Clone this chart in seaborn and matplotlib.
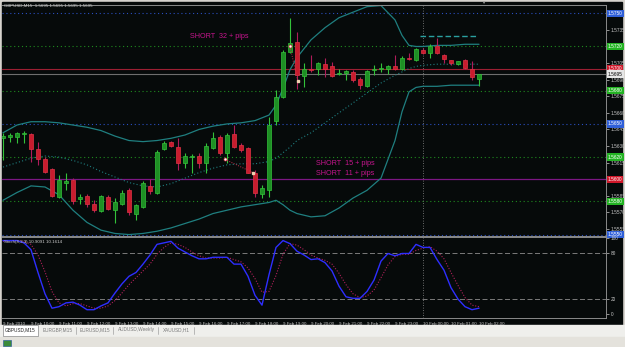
import numpy as np
import pandas as pd
import matplotlib
matplotlib.use("Agg")
import matplotlib.pyplot as plt
import matplotlib.transforms as mtransforms
from matplotlib.patches import Rectangle
import seaborn as sns

# ---------------- data ----------------
time_labels = ["9 Feb 2010", "9 Feb 10:00", "9 Feb 11:00", "9 Feb 12:00", "9 Feb 13:00",
               "9 Feb 14:00", "9 Feb 15:00", "9 Feb 16:00", "9 Feb 17:00", "9 Feb 18:00",
               "9 Feb 19:00", "9 Feb 20:00", "9 Feb 21:00", "9 Feb 22:00", "9 Feb 23:00",
               "10 Feb 00:00", "10 Feb 01:00", "10 Feb 02:00"]

opens = [1.5637, 1.5638, 1.5638, 1.5641, 1.5641, 1.5627, 1.5618, 1.5609, 1.5584, 1.5597,
         1.5599, 1.5582, 1.5585, 1.5578, 1.5571, 1.5584, 1.5572, 1.5578, 1.5590, 1.5569,
         1.5575, 1.5594, 1.5588, 1.5627, 1.5634, 1.5629, 1.5615, 1.5620, 1.5621, 1.5615,
         1.5628, 1.5638, 1.5624, 1.5641, 1.5631, 1.5628, 1.5606, 1.5587, 1.5590, 1.5653,
         1.5674, 1.5715, 1.5724, 1.5693, 1.5700, 1.5700, 1.5704, 1.5702, 1.5695, 1.5696,
         1.5697, 1.5691, 1.5684, 1.5699, 1.5700, 1.5700, 1.5702, 1.5700, 1.5710, 1.5708,
         1.5717, 1.5714, 1.5720, 1.5712, 1.5708, 1.5704, 1.5708, 1.5700, 1.5691]
highs = [1.5642, 1.5642, 1.5643, 1.5644, 1.5642, 1.5634, 1.5620, 1.5610, 1.5604, 1.5606,
         1.5601, 1.5587, 1.5587, 1.5581, 1.5586, 1.5586, 1.5583, 1.5590, 1.5592, 1.5578,
         1.5598, 1.5600, 1.5626, 1.5635, 1.5635, 1.5637, 1.5624, 1.5623, 1.5624, 1.5633,
         1.5643, 1.5640, 1.5642, 1.5649, 1.5633, 1.5629, 1.5608, 1.5595, 1.5656, 1.5681,
         1.5717, 1.5746, 1.5733, 1.5705, 1.5712, 1.5706, 1.5710, 1.5706, 1.5700, 1.5699,
         1.5699, 1.5692, 1.5699, 1.5703, 1.5705, 1.5703, 1.5712, 1.5711, 1.5714, 1.5719,
         1.5719, 1.5722, 1.5728, 1.5713, 1.5708, 1.5707, 1.5709, 1.5707, 1.5695]
lows = [1.5617, 1.5634, 1.5633, 1.5633, 1.5616, 1.5613, 1.5606, 1.5584, 1.5583, 1.5590,
        1.5578, 1.5578, 1.5575, 1.5570, 1.5570, 1.5572, 1.5560, 1.5577, 1.5568, 1.5563,
        1.5574, 1.5587, 1.5587, 1.5626, 1.5629, 1.5608, 1.5610, 1.5606, 1.5610, 1.5606,
        1.5627, 1.5622, 1.5615, 1.5628, 1.5625, 1.5606, 1.5584, 1.5583, 1.5584, 1.5649,
        1.5673, 1.5714, 1.5682, 1.5683, 1.5697, 1.5694, 1.5692, 1.5692, 1.5694, 1.5690,
        1.5688, 1.5682, 1.5683, 1.5694, 1.5697, 1.5695, 1.5699, 1.5699, 1.5708, 1.5707,
        1.5713, 1.5710, 1.5713, 1.5705, 1.5703, 1.5703, 1.5700, 1.5690, 1.5684]
closes = [1.5639, 1.5640, 1.5642, 1.5642, 1.5627, 1.5618, 1.5607, 1.5585, 1.5599, 1.5598,
          1.5580, 1.5584, 1.5578, 1.5572, 1.5585, 1.5573, 1.5579, 1.5588, 1.5570, 1.5577,
          1.5597, 1.5589, 1.5625, 1.5633, 1.5630, 1.5615, 1.5621, 1.5621, 1.5615, 1.5630,
          1.5637, 1.5624, 1.5640, 1.5629, 1.5626, 1.5606, 1.5588, 1.5592, 1.5649, 1.5674,
          1.5715, 1.5723, 1.5694, 1.5700, 1.5699, 1.5705, 1.5700, 1.5693, 1.5696, 1.5698,
          1.5690, 1.5685, 1.5698, 1.5700, 1.5701, 1.5702, 1.5700, 1.5710, 1.5709, 1.5718,
          1.5714, 1.5720, 1.5714, 1.5709, 1.5705, 1.5707, 1.5701, 1.5692, 1.5695]

# Bollinger bands read at selected bars
band_bars = [0, 2, 4, 6, 8, 10, 12, 14, 16, 18, 20, 22, 24, 26, 28, 30, 32, 34, 36, 38,
             39, 40, 41, 42, 44, 46, 48, 50, 52, 54, 56, 57, 58, 59, 60, 62, 64, 66, 68]
band_upper = [1.5642, 1.5649, 1.5652, 1.5652, 1.5651, 1.5649, 1.5647, 1.5644, 1.5639, 1.5635,
              1.5634, 1.5635, 1.5637, 1.5640, 1.5645, 1.5648, 1.5650, 1.5651, 1.5653, 1.5658,
              1.5667, 1.5682, 1.5699, 1.5710, 1.5726, 1.5737, 1.5746, 1.5751, 1.5756, 1.5757,
              1.5744, 1.5730, 1.5721, 1.5720, 1.5720, 1.5721, 1.5721, 1.5722, 1.5722]
band_mid = [1.5611, 1.5615, 1.5619, 1.5621, 1.5620, 1.5617, 1.5613, 1.5607, 1.5602, 1.5597,
            1.5594, 1.5593, 1.5596, 1.5601, 1.5606, 1.5610, 1.5613, 1.5614, 1.5614, 1.5616,
            1.5619, 1.5624, 1.5629, 1.5635, 1.5642, 1.5651, 1.5660, 1.5669, 1.5678, 1.5687,
            1.5694, 1.5697, 1.5700, 1.5702, 1.5703, 1.5704, 1.5704, 1.5704, 1.5704]
band_lower = [1.5581, 1.5588, 1.5594, 1.5593, 1.5586, 1.5572, 1.5561, 1.5554, 1.5551, 1.5550,
              1.5551, 1.5553, 1.5556, 1.5560, 1.5564, 1.5569, 1.5572, 1.5575, 1.5577, 1.5579,
              1.5581, 1.5577, 1.5572, 1.5569, 1.5566, 1.5567, 1.5574, 1.5583, 1.5590, 1.5601,
              1.5635, 1.5661, 1.5679, 1.5683, 1.5684, 1.5684, 1.5685, 1.5685, 1.5685]

stoch_main = [97, 97, 97, 94, 85, 55, 27, 8, 10, 15, 16, 12, 6, 6, 11, 15, 28, 40, 50, 55,
              66, 78, 92, 94, 96, 87, 82, 77, 73, 73, 75, 75, 75, 66, 66, 50, 25, 12, 52, 88,
              97, 93, 83, 78, 72, 73, 68, 57, 37, 23, 21, 21, 30, 45, 70, 80, 77, 80, 80, 92,
              88, 88, 72, 58, 35, 20, 10, 6, 8]
stoch_signal = [96, 97, 97, 96, 92, 78, 56, 30, 15, 11, 14, 14, 11, 8, 8, 11, 18, 28, 39, 48,
                57, 66, 79, 88, 94, 92, 88, 82, 77, 74, 74, 74, 75, 72, 69, 61, 47, 29, 30, 51,
                79, 93, 91, 85, 78, 74, 71, 66, 54, 39, 27, 22, 24, 32, 48, 65, 76, 79, 79, 84,
                87, 89, 83, 73, 55, 38, 22, 12, 10]

level_lines = [1.5750, 1.5720, 1.5700, 1.5695, 1.5680, 1.5650, 1.5620, 1.5600, 1.5580, 1.5550]
level_kinds = ["blue", "green", "red", "bid", "green", "blue", "green", "purple", "green", "blue"]
price_ticks = [1.5555, 1.5570, 1.5585, 1.5615, 1.5630, 1.5645, 1.5660, 1.5675, 1.5690,
               1.5705, 1.5735]
stoch_ticks = [0, 20, 80, 100]

# ---------------- figure ----------------
sns.set_theme(style="dark")
plt.rcParams["font.family"] = ["Liberation Sans", "DejaVu Sans"]

W, H = 625, 347
fig = plt.figure(figsize=(W / 100, H / 100), dpi=100, facecolor="#d6d3ce")
BG = "#060a0a"
fig.patches.append(Rectangle((2 / W, 1 - 325 / H), 620 / W, 323 / H,
                             transform=fig.transFigure, color=BG, zorder=-10))
fig.patches.append(Rectangle((0, 0), 1, 22 / H, transform=fig.transFigure,
                             color="#efefec", zorder=-10))
fig.patches.append(Rectangle((0, 0), 1, 10 / H, transform=fig.transFigure,
                             color="#e4e2dc", zorder=-9))

ax = fig.add_axes([2 / W, 1 - 236 / H, 604 / W, 231 / H])
ax2 = fig.add_axes([2 / W, 1 - 318 / H, 604 / W, 81 / H])
for a in (ax, ax2):
    a.set_facecolor(BG)
    a.grid(False)
    for s in a.spines.values():
        s.set_color("#8a8a8a")
        s.set_linewidth(0.7)
    a.spines["left"].set_visible(False)
    a.set_xlim(-0.14, 86.14)

n = len(closes)
bars = np.arange(n)
df = pd.DataFrame({"bar": bars, "open": opens, "high": highs, "low": lows, "close": closes})
up = df["close"] >= df["open"]
GREEN, GREEN_E = "#1e8f24", "#33c23a"
RED, RED_E = "#c81c2e", "#e23445"

# wicks
ax.vlines(df.loc[up, "bar"], df.loc[up, "low"], df.loc[up, "high"], color=GREEN_E, lw=0.8, zorder=3)
ax.vlines(df.loc[~up, "bar"], df.loc[~up, "low"], df.loc[~up, "high"], color="#b01c5a", lw=0.8, zorder=3)
# bodies
body_lo = np.minimum(df["open"], df["close"])
body_h = np.maximum(np.abs(df["close"] - df["open"]), 0.00008)
ax.bar(df.loc[up, "bar"], body_h[up], bottom=body_lo[up], width=0.58,
       color=GREEN, edgecolor=GREEN_E, linewidth=0.5, zorder=4)
ax.bar(df.loc[~up, "bar"], body_h[~up], bottom=body_lo[~up], width=0.58,
       color=RED, edgecolor=RED_E, linewidth=0.5, zorder=4)

# Bollinger bands
bdf = pd.DataFrame({"bar": band_bars, "upper": band_upper, "mid": band_mid, "lower": band_lower})
TEAL = "#1f7f80"
sns.lineplot(data=bdf, x="bar", y="upper", ax=ax, color=TEAL, lw=0.9, zorder=2)
sns.lineplot(data=bdf, x="bar", y="lower", ax=ax, color=TEAL, lw=0.9, zorder=2)
sns.lineplot(data=bdf, x="bar", y="mid", ax=ax, color=TEAL, lw=0.8, ls=(0, (1, 2)), zorder=2)

# horizontal levels
style = {"blue": ("#2a4fc0", (0, (1, 2.5)), 0.8),
         "green": ("#1f8a1f", (0, (1, 2.5)), 0.8),
         "red": ("#9c1f33", "-", 0.8),
         "bid": ("#6e6e6e", "-", 0.8),
         "purple": ("#7c1783", "-", 0.9)}
box_colors = {"blue": ("#2f5fd8", "white"), "green": ("#23b323", "white"),
              "red": ("#d0182a", "white"), "bid": ("#e6e6e6", "black"),
              "purple": ("#d0182a", "white")}
trans = mtransforms.blended_transform_factory(ax.transAxes, ax.transData)
for lv, k in zip(level_lines, level_kinds):
    c, ls, lw = style[k]
    ax.axhline(lv, color=c, ls=ls, lw=lw, zorder=1)
    fc, tc = box_colors[k]
    ax.text(1.003, lv, f"{lv:.4f}", transform=trans, fontsize=3.4, color=tc,
            va="center", ha="left", clip_on=False, zorder=6,
            bbox=dict(boxstyle="square,pad=0.25", fc=fc, ec="none"))

# dashed teal projection
ax.hlines(1.57295, 59.6, 67.7, color="#2aa0a0", lw=1.0, ls=(0, (4, 2)), zorder=2)

# day separator
ax.axvline(60, color="#8c8c8c", ls=(0, (1, 2)), lw=0.6, zorder=1)
ax2.axvline(60, color="#8c8c8c", ls=(0, (1, 2)), lw=0.6, zorder=1)

ax.set_ylim(1.55487, 1.57575)
ax.yaxis.tick_right()
ax.set_yticks(price_ticks)
ax.set_yticklabels([f"{p:.4f}" for p in price_ticks])
ax.tick_params(axis="y", labelsize=3.4, colors="#c8c8c8", length=2, pad=1.5, width=0.5)
ax.set_xticks([])
ax.set_xlabel("")
ax.set_ylabel("")

# trade annotations
ax.text(26.7, 1.57286, "SHORT  32 + pips", color="#c8158f", fontsize=5.2, va="center", ha="left", zorder=7)
ax.text(44.7, 1.56146, "SHORT  15 + pips", color="#c8158f", fontsize=5.2, va="center", ha="left", zorder=7)
ax.text(44.7, 1.56056, "SHORT  11 + pips", color="#c8158f", fontsize=5.2, va="center", ha="left", zorder=7)
ax.plot([31.7, 35.7], [1.5618, 1.5606], color="#c0304a", ls=(0, (1, 1.5)), lw=0.7, zorder=5)
ax.plot([41.0, 42.1], [1.5720, 1.5689], color="#c0304a", ls=(0, (1, 1.5)), lw=0.7, zorder=5)
ax.plot([31.7, 41.0], [1.5618, 1.5720], ls="none", marker="o", ms=2.2, mfc="white",
        mec="#d03040", mew=0.5, zorder=8)
ax.plot([35.7, 42.1], [1.5606, 1.5689], ls="none", marker="s", ms=2.0, mfc="#f0d0b0",
        mec="#f0d0b0", zorder=8)

# header texts
fig.text(4 / W, 1 - 6 / H, "GBPUSD,M15  1.5695 1.5695 1.5695 1.5695", fontsize=3.2,
         color="#d0d0d0", va="center", ha="left")
fig.text(4 / W, 1 - 242 / H, "Stoch(8,3,3) 10.9091 10.1614", fontsize=3.2,
         color="#d0d0d0", va="center", ha="left")
fig.text(483 / W, 1 - 3 / H, "▼", fontsize=3, color="#9a9a9a", ha="center", va="center")

# stochastic
sdf = pd.DataFrame({"bar": bars, "main": stoch_main, "signal": stoch_signal})
sns.lineplot(data=sdf, x="bar", y="main", ax=ax2, color="#2e2eff", lw=1.0, zorder=4)
sns.lineplot(data=sdf, x="bar", y="signal", ax=ax2, color="#b0205a", lw=0.8,
             ls=(0, (1, 1.5)), zorder=3)
for lv in (20, 80):
    ax2.axhline(lv, color="#8c8c8c", ls=(0, (6, 3)), lw=0.6, zorder=1)
ax2.set_ylim(-4.9, 101.7)
ax2.yaxis.tick_right()
ax2.set_yticks(stoch_ticks)
ax2.set_yticklabels([str(t) for t in stoch_ticks])
ax2.tick_params(axis="y", labelsize=3.4, colors="#c8c8c8", length=2, pad=1.5, width=0.5)
ax2.set_xticks(np.arange(0, n, 4))
ax2.set_xticklabels(time_labels, ha="left")
ax2.tick_params(axis="x", labelsize=3.2, colors="#c8c8c8", length=1.5, pad=1.2, width=0.5)
ax2.set_xlabel("")
ax2.set_ylabel("")

# tabs
tabs = ["GBPUSD,M15", "EURGBP,M15", "EURUSD,M15", "AUDUSD,Weekly", "XAUUSD,H1"]
tab_x = [3, 39, 77, 114, 159]
tab_r = [38, 76, 113, 158, 194]
for i, (t, x0, x1) in enumerate(zip(tabs, tab_x, tab_r)):
    if i == 0:
        fig.patches.append(Rectangle((x0 / W, 1 - 336 / H), (x1 - x0) / W, 11 / H,
                                     transform=fig.transFigure, fc="white", ec="#888888", lw=0.5))
    else:
        fig.lines.append(plt.Line2D([x1 / W, x1 / W], [1 - 334 / H, 1 - 327 / H],
                                    transform=fig.transFigure, color="#a0a0a0", lw=0.5))
    fig.text((x0 + x1) / 2 / W, 1 - 330 / H, t, fontsize=3.4,
             color="#222222" if i == 0 else "#7a7a7a", ha="center", va="center")
fig.patches.append(Rectangle((3 / W, 1 - 346 / H), 8 / W, 6 / H, transform=fig.transFigure,
                             fc="#3a8a3a", ec="#2050a0", lw=0.4))

fig.savefig("out.png", dpi=100, facecolor=fig.get_facecolor())
